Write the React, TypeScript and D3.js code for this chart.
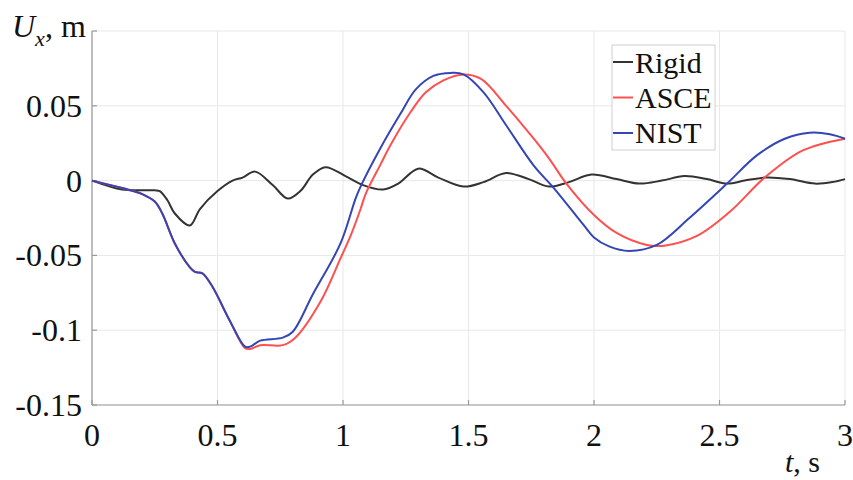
import * as d3 from "d3";
import React from "react";

// time samples (s) and displacement (m)
const rigidT = [0, 0.12, 0.2, 0.25, 0.27, 0.3, 0.33, 0.39, 0.43, 0.5, 0.56, 0.6, 0.65, 0.72, 0.78, 0.83, 0.88, 0.93, 1.01, 1.08, 1.16, 1.22, 1.3, 1.38, 1.48, 1.56, 1.65, 1.74, 1.82, 1.9, 1.99, 2.09, 2.18, 2.27, 2.36, 2.45, 2.53, 2.6, 2.68, 2.78, 2.88, 2.95, 3];
const rigidU = [0, -0.006, -0.0065, -0.0065, -0.007, -0.013, -0.022, -0.03, -0.019, -0.007, 0.0, 0.002, 0.006, -0.003, -0.012, -0.007, 0.004, 0.009, 0.003, -0.003, -0.006, -0.002, 0.008, 0.002, -0.004, -0.001, 0.005, 0.001, -0.004, -0.001, 0.004, 0.001, -0.002, 0.0, 0.003, 0.001, -0.002, 0.0, 0.002, 0.001, -0.002, -0.001, 0.001];

const nistT = [0, 0.12, 0.2, 0.25, 0.28, 0.33, 0.39, 0.41, 0.44, 0.48, 0.55, 0.61, 0.63, 0.67, 0.76, 0.8, 0.88, 0.99, 1.05, 1.07, 1.15, 1.23, 1.29, 1.36, 1.43, 1.48, 1.56, 1.65, 1.76, 1.84, 1.96, 2.0, 2.06, 2.14, 2.25, 2.38, 2.53, 2.65, 2.76, 2.86, 2.94, 3];
const nistU = [0, -0.005, -0.009, -0.014, -0.022, -0.042, -0.058, -0.061, -0.062, -0.071, -0.094, -0.111, -0.111, -0.107, -0.105, -0.101, -0.076, -0.042, -0.012, -0.004, 0.022, 0.045, 0.061, 0.07, 0.072, 0.071, 0.059, 0.037, 0.01, -0.005, -0.03, -0.038, -0.044, -0.047, -0.043, -0.025, -0.002, 0.017, 0.028, 0.032, 0.031, 0.028];

const asceT = [0, 0.12, 0.2, 0.25, 0.28, 0.33, 0.39, 0.41, 0.44, 0.48, 0.55, 0.61, 0.63, 0.67, 0.76, 0.81, 0.91, 0.99, 1.03, 1.07, 1.09, 1.15, 1.19, 1.27, 1.33, 1.4, 1.48, 1.55, 1.65, 1.76, 1.82, 1.89, 2.0, 2.09, 2.21, 2.28, 2.41, 2.54, 2.68, 2.83, 3];
const asceU = [0, -0.005, -0.009, -0.014, -0.022, -0.042, -0.058, -0.061, -0.062, -0.071, -0.094, -0.112, -0.1125, -0.11, -0.11, -0.105, -0.081, -0.052, -0.037, -0.019, -0.009, 0.011, 0.024, 0.046, 0.059, 0.067, 0.071, 0.068, 0.05, 0.028, 0.015, -0.002, -0.023, -0.035, -0.043, -0.0435, -0.037, -0.021, 0.002, 0.02, 0.028];

const xTicks = [0, 0.5, 1, 1.5, 2, 2.5, 3];
const yTicks = [0.1, 0.05, 0, -0.05, -0.1, -0.15];
const yTickLabels = ["", "0.05", "0", "-0.05", "-0.1", "-0.15"];

const seriesNames = ["Rigid", "ASCE", "NIST"];
const seriesColors = ["#333333", "#ff5050", "#3446b4"];

export default function App() {
  const W = 853, H = 480;
  const left = 92, right = 845, top = 31, bottom = 405;
  const txt = { fontFamily: "Liberation Serif", fill: "#111" };

  const x = d3.scaleLinear().domain([0, 3]).range([left, right]);
  const y = d3.scaleLinear().domain([-0.15, 0.1]).range([bottom, top]);

  const line = d3.line<[number, number]>()
    .x(d => x(d[0]))
    .y(d => y(d[1]))
    .curve(d3.curveCatmullRom.alpha(0.5));

  const series = [
    rigidT.map((t, i) => [t, rigidU[i]] as [number, number]),
    asceT.map((t, i) => [t, asceU[i]] as [number, number]),
    nistT.map((t, i) => [t, nistU[i]] as [number, number]),
  ];

  return (
    <svg width={W} height={H} style={{ position: "absolute", left: 0, top: 0, background: "#fff" }}>
      {/* grid */}
      {xTicks.map(t => (
        <line key={"gx" + t} x1={x(t)} x2={x(t)} y1={top} y2={bottom} stroke="#e8e8e8" strokeWidth={1} />
      ))}
      {yTicks.map(t => (
        <line key={"gy" + t} x1={left} x2={right} y1={y(t)} y2={y(t)} stroke="#e8e8e8" strokeWidth={1} />
      ))}

      {/* axes */}
      <line x1={left} x2={left} y1={top} y2={bottom} stroke="#999" strokeWidth={1.2} />
      <line x1={left} x2={right} y1={bottom} y2={bottom} stroke="#999" strokeWidth={1.2} />
      {yTicks.map(t => (
        <line key={"ty" + t} x1={left} x2={left + 5} y1={y(t)} y2={y(t)} stroke="#999" strokeWidth={1.2} />
      ))}
      {xTicks.map(t => (
        <line key={"tx" + t} x1={x(t)} x2={x(t)} y1={bottom} y2={bottom - 5} stroke="#999" strokeWidth={1.2} />
      ))}

      {/* tick labels */}
      {yTicks.map((t, i) => (
        <text key={"ly" + t} x={left - 10} y={y(t) + 11} textAnchor="end" fontSize={32} style={txt}>
          {yTickLabels[i]}
        </text>
      ))}
      {xTicks.map(t => (
        <text key={"lx" + t} x={x(t)} y={446} textAnchor="middle" fontSize={32} style={txt}>
          {String(t)}
        </text>
      ))}

      {/* curves */}
      {series.map((s, i) => (
        <path key={seriesNames[i]} d={line(s) || ""} fill="none" stroke={seriesColors[i]} strokeWidth={2} strokeLinejoin="round" />
      ))}

      {/* axis titles */}
      <text x={12} y={37} fontSize={32} style={txt}>
        <tspan fontStyle="italic">U</tspan>
        <tspan fontStyle="italic" fontSize={22} dy={9}>x</tspan>
        <tspan dy={-9}>, m</tspan>
      </text>
      <text x={785} y={472} fontSize={30} style={txt}>
        <tspan fontStyle="italic">t</tspan>
        <tspan>, s</tspan>
      </text>

      {/* legend */}
      <rect x={612} y={45} width={103} height={105} fill="#fff" stroke="#d0d0d0" strokeWidth={1} />
      {seriesNames.map((n, i) => (
        <g key={"lg" + n}>
          <line x1={613} x2={633} y1={62 + i * 35.5} y2={62 + i * 35.5} stroke={seriesColors[i]} strokeWidth={2} />
          <text x={635} y={73 + i * 35} fontSize={30} style={txt}>{n}</text>
        </g>
      ))}
    </svg>
  );
}
